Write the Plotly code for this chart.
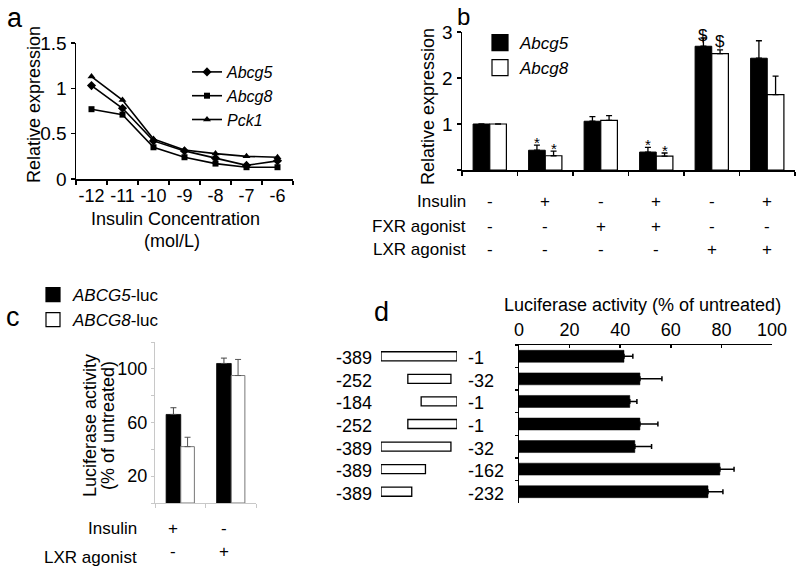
import plotly.graph_objects as go

W, H = 800, 572
def px(x): return x / W
def py(y): return 1 - y / H

FONT = "Arial, 'Liberation Sans', Helvetica, sans-serif"

# ---------------- data ----------------
# panel a
conc = ["-12", "-11", "-10", "-9", "-8", "-7", "-6"]
abcg5_a = [1.03, 0.78, 0.42, 0.31, 0.23, 0.15, 0.20]
abcg8_a = [0.77, 0.71, 0.35, 0.24, 0.17, 0.13, 0.13]
pck1_a = [1.13, 0.87, 0.44, 0.32, 0.28, 0.25, 0.24]

# panel b
groups_b = ["g1", "g2", "g3", "g4", "g5", "g6"]
abcg5_b = [1.00, 0.43, 1.06, 0.39, 2.69, 2.43]
abcg5_b_err = [0.0, 0.11, 0.10, 0.10, 0.18, 0.38]
abcg8_b = [1.00, 0.31, 1.08, 0.30, 2.53, 1.64]
abcg8_b_err = [0.0, 0.10, 0.10, 0.07, 0.08, 0.40]
sig5_b = ["", "*", "", "*", "$", ""]
sig8_b = ["", "*", "", "*", "$", ""]
rows_b = ["Insulin", "FXR agonist", "LXR agonist"]
insulin_b = ["-", "+", "-", "+", "-", "+"]
fxr_b = ["-", "-", "+", "+", "-", "-"]
lxr_b = ["-", "-", "-", "-", "+", "+"]

# panel c
groups_c = ["ins", "lxr"]
abcg5_c = [66, 104]
abcg5_c_err = [5, 4]
abcg8_c = [42, 95]
abcg8_c_err = [7, 12]
rows_c = ["Insulin", "LXR agonist"]
insulin_c = ["+", "-"]
lxr_c = ["-", "+"]

# panel d
starts_d = [-389, -252, -184, -252, -389, -389, -389]
ends_d = [-1, -32, -1, -1, -32, -162, -232]
luc_d = [41.5, 47.8, 43.8, 47.8, 45.8, 79.4, 74.7]
luc_d_err = [3.5, 8.7, 2.8, 7.1, 6.6, 5.6, 5.9]
cons_d = [f"{s}/{e}" for s, e in zip(starts_d, ends_d)]

fig = go.Figure()

# ---------------- panel a ----------------
for name, vals, sym, sz in [("<i>Abcg5</i>", abcg5_a, "diamond", 7),
                            ("<i>Abcg8</i>", abcg8_a, "square", 6),
                            ("<i>Pck1</i>", pck1_a, "triangle-up", 7)]:
    fig.add_trace(go.Scatter(x=conc, y=vals, mode="lines+markers", name=name,
                             line=dict(color="black", width=1.6),
                             marker=dict(symbol=sym, size=sz, color="black"),
                             xaxis="x", yaxis="y", legend="legend"))

# ---------------- panel b ----------------
fig.add_trace(go.Bar(x=groups_b, y=abcg5_b, width=0.3, offset=-0.3, xaxis="x2", yaxis="y2",
                     marker=dict(color="black", line=dict(color="black", width=1)),
                     error_y=dict(type="data", array=abcg5_b_err, arrayminus=[0]*6, symmetric=False,
                                  color="black", thickness=1.3, width=3),
                     showlegend=False))
fig.add_trace(go.Bar(x=groups_b, y=abcg8_b, width=0.3, offset=0.0, xaxis="x2", yaxis="y2",
                     marker=dict(color="white", line=dict(color="black", width=1.2)),
                     error_y=dict(type="data", array=abcg8_b_err, arrayminus=[0]*6, symmetric=False,
                                  color="black", thickness=1.3, width=3),
                     showlegend=False))
for name, col in [("<i>Abcg5</i>", "black"), ("<i>Abcg8</i>", "white")]:
    fig.add_trace(go.Scatter(x=[None], y=[None], mode="markers", name=name, xaxis="x2", yaxis="y2",
                             marker=dict(symbol="square", size=16, color=col,
                                         line=dict(color="black", width=1.2)),
                             legend="legend2", legendgroup=name))

# ---------------- panel c ----------------
fig.add_trace(go.Bar(x=groups_c, y=abcg5_c, width=0.29, offset=-0.28, xaxis="x3", yaxis="y3",
                     marker=dict(color="black", line=dict(color="black", width=0.8)),
                     error_y=dict(type="data", array=abcg5_c_err, arrayminus=[0]*2, symmetric=False,
                                  color="#444", thickness=1, width=3),
                     showlegend=False))
fig.add_trace(go.Bar(x=groups_c, y=abcg8_c, width=0.27, offset=0.01, xaxis="x3", yaxis="y3",
                     marker=dict(color="white", line=dict(color="#777", width=1)),
                     error_y=dict(type="data", array=abcg8_c_err, arrayminus=[0]*2, symmetric=False,
                                  color="#555", thickness=1, width=3),
                     showlegend=False))
for name, col in [("<i>ABCG5</i>-luc", "black"), ("<i>ABCG8</i>-luc", "white")]:
    fig.add_trace(go.Scatter(x=[None], y=[None], mode="markers", name=name, xaxis="x3", yaxis="y3",
                             marker=dict(symbol="square", size=14, color=col,
                                         line=dict(color="black", width=1.2)),
                             legend="legend3", legendgroup=name))

# ---------------- panel d ----------------
fig.add_trace(go.Bar(y=cons_d, x=luc_d, orientation="h", width=0.53, xaxis="x4", yaxis="y4",
                     marker=dict(color="black", line=dict(color="black", width=0.5)),
                     error_x=dict(type="data", array=luc_d_err, arrayminus=[0]*7, symmetric=False,
                                  color="black", thickness=1.5, width=2.5),
                     showlegend=False))
fig.add_trace(go.Bar(y=cons_d, x=[e - s for s, e in zip(starts_d, ends_d)], base=starts_d,
                     orientation="h", width=0.4, xaxis="x5", yaxis="y4",
                     marker=dict(color="white", line=dict(color="black", width=1.3)),
                     showlegend=False))

# ---------------- annotations ----------------
ann = []
def txt(x, y, t, size=18, xanchor="center", yanchor="middle", xref="paper", yref="paper",
        angle=0, yshift=0):
    ann.append(dict(x=x, y=y, text=t, xref=xref, yref=yref, showarrow=False,
                    xanchor=xanchor, yanchor=yanchor, textangle=angle, yshift=yshift,
                    borderpad=0,
                    font=dict(family=FONT, size=size, color="black")))

# panel letters
txt(px(15), py(18), "a", size=27)
txt(px(464), py(16), "b", size=24)
txt(px(13), py(317), "c", size=27)
txt(px(381), py(312), "d", size=27)

# panel a titles
txt(px(34), py(105), "Relative expression", angle=-90)
txt(px(175), py(219), "Insulin Concentration")
txt(px(172), py(241), "(mol/L)")

# panel b titles and table
txt(px(428), py(107), "Relative expression", angle=-90)
row_y_b = [201, 226, 249]
for lab, yy, signs in zip(rows_b, row_y_b, [insulin_b, fxr_b, lxr_b]):
    txt(px(467), py(yy), lab, size=17, xanchor="right")
    for i, s in enumerate(signs):
        txt(i, py(yy), s, size=17, xref="x2")
for i in range(len(groups_b)):
    if sig5_b[i]:
        txt(i - 0.15, abcg5_b[i] + abcg5_b_err[i], sig5_b[i], size=17 if sig5_b[i] == "$" else 15,
            xref="x2", yref="y2", yanchor="bottom", yshift=-7 if sig5_b[i] == "*" else -8)
    if sig8_b[i]:
        txt(i + 0.15, abcg8_b[i] + abcg8_b_err[i], sig8_b[i], size=17 if sig8_b[i] == "$" else 15,
            xref="x2", yref="y2", yanchor="bottom", yshift=-7 if sig8_b[i] == "*" else -2)

# panel c titles and table
txt(px(90), py(426), "Luciferase activity", angle=-90)
txt(px(108), py(426), "(% of untreated)", angle=-90)
row_y_c = [528, 551]
for lab, yy, signs, ly in zip(rows_c, row_y_c, [insulin_c, lxr_c], [528, 557]):
    txt(px(138), py(ly), lab, size=17, xanchor="right")
    for i, s in enumerate(signs):
        txt(i - 0.14, py(yy), s, size=17, xref="x3")

# panel d titles and construct labels
txt(px(642), py(305), "Luciferase activity (% of untreated)")
for i, (s, e) in enumerate(zip(starts_d, ends_d)):
    txt(px(373), i, str(s), xanchor="right", yref="y4", yshift=-2)
    txt(px(467), i, str(e), xanchor="left", yref="y4", yshift=-2)

# ---------------- layout ----------------
axis_common = dict(showline=True, linecolor="black", linewidth=1.5, ticks="outside",
                   tickcolor="black", tickwidth=1.5, showgrid=False, zeroline=False,
                   automargin=False,
                   tickfont=dict(family=FONT, size=19, color="black"))

fig.update_layout(
    width=W, height=H, autosize=False,
    margin=dict(l=0, r=0, t=0, b=0, pad=0, autoexpand=False),
    paper_bgcolor="white", plot_bgcolor="white",
    font=dict(family=FONT, color="black"),
    barmode="overlay",
    annotations=ann,
    xaxis=dict(axis_common, domain=[px(76), px(293)], anchor="y", type="category",
               range=[-0.5, 6.5], tickson="boundaries", ticklen=4, tickangle=0,
               tickfont=dict(family=FONT, size=18, color="black")),
    yaxis=dict(axis_common, domain=[py(179), py(43)], anchor="x", range=[0, 1.5],
               tickvals=[0, 0.5, 1, 1.5], ticktext=["0", "0.5", "1", "1.5"], ticklen=4),
    xaxis2=dict(axis_common, domain=[px(462), px(795)], anchor="y2", type="category",
                range=[-0.5, 5.5], tickson="boundaries", ticklen=4, showticklabels=False),
    yaxis2=dict(axis_common, domain=[py(170), py(32)], anchor="x2", range=[0, 3],
                tickvals=[0, 1, 2, 3], ticktext=["", "1", "2", "3"], ticklen=4),
    xaxis3=dict(axis_common, domain=[px(155), px(256)], anchor="y3", type="category",
                range=[-0.5, 1.5], tickson="boundaries", ticklen=4, showticklabels=False,
                linecolor="#c8c8c8", tickcolor="#c8c8c8", linewidth=1, tickwidth=1),
    yaxis3=dict(axis_common, domain=[py(503), py(342)], anchor="x3", range=[0, 120],
                tickvals=[0, 20, 40, 60, 80, 100, 120],
                ticktext=["", "20", "", "60", "", "100", ""], ticklen=3,
                linecolor="#c8c8c8", tickcolor="#c8c8c8", linewidth=1, tickwidth=1,
                tickfont=dict(family=FONT, size=18, color="black")),
    xaxis4=dict(axis_common, domain=[px(519), px(772)], anchor="y4", side="top",
                range=[0, 100], tickvals=[0, 20, 40, 60, 80, 100], ticks="inside", ticklen=3,
                tickfont=dict(family=FONT, size=18, color="black")),
    yaxis4=dict(axis_common, domain=[py(503), py(345)], anchor="x4", type="category",
                range=[6.5, -0.5], tickson="boundaries", ticklen=3, showticklabels=False),
    xaxis5=dict(domain=[px(381), px(457)], anchor="y4", range=[-389, -1], visible=False,
                automargin=False),
    legend=dict(x=px(187), y=py(55), xanchor="left", yanchor="top", bgcolor="rgba(0,0,0,0)",
                font=dict(family=FONT, size=16, color="black"), itemwidth=30),
    legend2=dict(x=px(480), y=py(25), xanchor="left", yanchor="top", bgcolor="rgba(0,0,0,0)",
                 font=dict(family=FONT, size=17, color="black"), itemwidth=30, tracegroupgap=0),
    legend3=dict(x=px(33), y=py(277), xanchor="left", yanchor="top", bgcolor="rgba(0,0,0,0)",
                 font=dict(family=FONT, size=17, color="black"), itemwidth=30, tracegroupgap=0),
)

fig.write_html("out.html", config={"displayModeBar": False, "staticPlot": True},
               post_script="document.body.style.margin='0px';document.body.style.overflow='hidden';")
